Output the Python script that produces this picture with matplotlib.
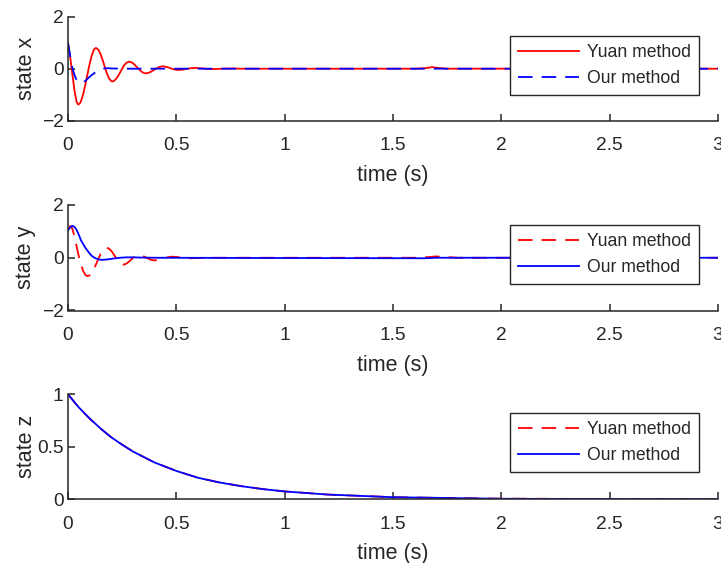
import matplotlib
matplotlib.use("Agg")
import matplotlib.pyplot as plt

plt.rcParams['font.family'] = ['Liberation Sans', 'DejaVu Sans']
plt.rcParams['lines.scale_dashes'] = False

# ---------------- data ----------------
t_x_yuan = [0.0, 0.01, 0.02, 0.03, 0.04, 0.047, 0.055, 0.06, 0.07, 0.08, 0.09, 0.10, 0.11, 0.12, 0.129,
            0.14, 0.15, 0.16, 0.17, 0.18, 0.19, 0.20, 0.204, 0.21, 0.22, 0.23, 0.24, 0.25, 0.26, 0.27, 0.281,
            0.29, 0.30, 0.31, 0.32, 0.33, 0.34, 0.35, 0.359, 0.37, 0.38, 0.39, 0.40, 0.41, 0.42, 0.435,
            0.45, 0.46, 0.47, 0.48, 0.49, 0.50, 0.51, 0.53, 0.55, 0.57, 0.585, 0.61, 0.635, 0.66, 0.69,
            0.72, 0.76, 0.80, 1.0, 1.6, 1.65, 1.68, 1.71, 1.75, 2.0, 2.5, 3.0]
x_yuan = [1.0, 0.45, -0.2, -0.85, -1.28, -1.38, -1.33, -1.25, -0.98, -0.62, -0.21, 0.19, 0.52, 0.74, 0.80,
          0.73, 0.57, 0.33, 0.06, -0.19, -0.38, -0.48, -0.49, -0.48, -0.41, -0.30, -0.15, 0.0, 0.14, 0.23, 0.27,
          0.255, 0.21, 0.13, 0.045, -0.04, -0.12, -0.165, -0.18, -0.165, -0.13, -0.08, -0.03, 0.02, 0.065, 0.09,
          0.077, 0.055, 0.027, -0.002, -0.027, -0.045, -0.05, -0.035, -0.005, 0.022, 0.03, 0.02, 0.0, -0.015, -0.01,
          0.005, 0.008, 0.0, 0.0, 0.0, 0.02, 0.06, 0.03, 0.0, 0.0, 0.0, 0.0]

t_x_our = [0.0, 0.01, 0.02, 0.03, 0.04, 0.05, 0.06, 0.07, 0.08, 0.09, 0.10, 0.11, 0.12, 0.13, 0.14,
           0.15, 0.16, 0.18, 0.20, 0.25, 1.0, 2.0, 3.0]
x_our = [1.0, 0.5, 0.05, -0.25, -0.44, -0.52, -0.55, -0.53, -0.47, -0.39, -0.31, -0.24, -0.18, -0.12, -0.07,
         -0.03, 0.0, 0.02, 0.01, 0.0, 0.0, 0.0, 0.0]

t_y_yuan = [0.0, 0.005, 0.01, 0.015, 0.02, 0.03, 0.04, 0.05, 0.06, 0.07, 0.08, 0.09,
            0.10, 0.11, 0.12, 0.13, 0.14, 0.15, 0.16, 0.17, 0.178,
            0.19, 0.20, 0.21, 0.22, 0.23, 0.24, 0.255,
            0.265, 0.275, 0.285, 0.295, 0.305, 0.315, 0.325,
            0.34, 0.355, 0.37, 0.385, 0.40, 0.42, 0.44, 0.46, 0.48,
            0.50, 0.52, 0.54, 0.56, 0.60, 0.64, 1.0, 1.62, 1.67, 1.70, 1.74, 1.80, 2.5, 3.0]
y_yuan = [1.05, 1.15, 1.2, 1.18, 1.1, 0.8, 0.42, 0.05, -0.26, -0.5, -0.65, -0.70,
          -0.666, -0.568, -0.419, -0.237, -0.046, 0.132, 0.271, 0.358, 0.38,
          0.342, 0.259, 0.144, 0.014, -0.107, -0.202, -0.26,
          -0.242, -0.192, -0.12, -0.04, 0.032, 0.082, 0.10,
          0.081, 0.031, -0.031, -0.081, -0.10, -0.079, -0.03, 0.019, 0.04,
          0.031, 0.01, -0.011, -0.02, -0.01, 0.0, 0.0, 0.0, 0.03, 0.05, 0.03, 0.0, 0.0, 0.0]

t_y_our = [0.0, 0.01, 0.02, 0.03, 0.04, 0.05, 0.06, 0.07, 0.08, 0.09, 0.10, 0.11, 0.12, 0.13, 0.14,
           0.156, 0.18, 0.21, 0.24, 0.27, 0.30, 0.35, 0.40, 1.0, 1.65, 1.7, 2.0, 3.0]
y_our = [1.04, 1.15, 1.21, 1.17, 1.05, 0.87, 0.66, 0.52, 0.38, 0.27, 0.16, 0.07, 0.01, -0.03, -0.06,
         -0.08, -0.065, -0.03, 0.0, 0.015, 0.015, 0.005, 0.0, -0.01, -0.02, 0.0, 0.0, 0.0]

t_z = [0.0, 0.05, 0.1, 0.15, 0.2, 0.25, 0.3, 0.4, 0.5, 0.6, 0.7, 0.8, 0.9, 1.0, 1.2, 1.5, 2.0, 2.5, 3.0]
z_yuan = [1.0, 0.872, 0.768, 0.673, 0.59, 0.52, 0.455, 0.35, 0.27, 0.205, 0.16, 0.125, 0.097, 0.075,
          0.045, 0.02, 0.006, 0.003, 0.002]
z_our = [1.0, 0.875, 0.77, 0.675, 0.59, 0.52, 0.455, 0.35, 0.27, 0.205, 0.16, 0.125, 0.097, 0.075,
         0.045, 0.02, 0.005, 0.002, 0.0]

x_ticks = [0, 0.5, 1, 1.5, 2, 2.5, 3]
x_ticklabels = ['0', '0.5', '1', '1.5', '2', '2.5', '3']
y_ticks_xy = [-2, 0, 2]
y_ticklabels_xy = ['\u22122', '0', '2']
y_ticks_z = [0, 0.5, 1]
y_ticklabels_z = ['0', '0.5', '1']
legend_labels = ['Yuan method', 'Our method']
y_labels = ['state x', 'state y', 'state z']

# ---------------- style ----------------
RED = '#FF0000'
BLUE = '#0000FF'
AX = '#262626'
LW = 1.3
DASH = (10.5, 6.5)

W, H = 721, 563
fig = plt.figure(figsize=(W / 100, H / 100), dpi=100)

left_px, right_px = 68, 718
boxes = [(16.7, 120.7), (205.0, 310.5), (394.3, 499.3)]
axes = []
for top, bot in boxes:
    ax = fig.add_axes([left_px / W, 1 - bot / H, (right_px - left_px) / W, (bot - top) / H])
    axes.append(ax)

def style(ax, yticks, yticklabels, ylim, ylabel):
    ax.set_xlim(0, 3)
    ax.set_ylim(*ylim)
    ax.set_xticks(x_ticks)
    ax.set_xticklabels(x_ticklabels)
    ax.set_yticks(yticks)
    ax.set_yticklabels(yticklabels)
    for s in ['top', 'right']:
        ax.spines[s].set_visible(False)
    for s in ['left', 'bottom']:
        ax.spines[s].set_color(AX)
        ax.spines[s].set_linewidth(1.1)
    ax.tick_params(axis='both', direction='in', length=5, width=1.1, color=AX,
                   labelcolor=AX, labelsize=13.8)
    ax.tick_params(axis='x', pad=12)
    ax.tick_params(axis='y', pad=3.2)
    ax.set_xlabel('time (s)', fontsize=15.5, color=AX, va='top')
    ax.set_ylabel(ylabel, fontsize=15.5, color=AX, va='center')
    h = ax.get_position().height * H
    ax.xaxis.set_label_coords(0.5, -44.0 / h)
    ax.yaxis.set_label_coords(-42.0 / 650.0, 0.5)

def add_legend(ax, handles, yfrac):
    leg = ax.legend(handles, legend_labels, loc='center right', bbox_to_anchor=(0.971, yfrac),
                    borderaxespad=0, fontsize=12.7, handlelength=3.5, handletextpad=0.45,
                    borderpad=0.45, labelspacing=0.5, fancybox=False, framealpha=1,
                    edgecolor=AX)
    leg.get_frame().set_linewidth(1.0)
    for txt in leg.get_texts():
        txt.set_color(AX)

# state x
ax = axes[0]
l1, = ax.plot(t_x_yuan, x_yuan, color=RED, lw=LW, solid_joinstyle='round')
l2, = ax.plot(t_x_our, x_our, color=BLUE, lw=LW, linestyle=(0, DASH))
style(ax, y_ticks_xy, y_ticklabels_xy, (-2, 2), y_labels[0])
add_legend(ax, [l1, l2], 0.53)

# state y
ax = axes[1]
l1, = ax.plot(t_y_yuan, y_yuan, color=RED, lw=LW, linestyle=(0, DASH))
l2, = ax.plot(t_y_our, y_our, color=BLUE, lw=LW)
style(ax, y_ticks_xy, y_ticklabels_xy, (-2, 2), y_labels[1])
add_legend(ax, [l1, l2], 0.533)

# state z
ax = axes[2]
l1, = ax.plot(t_z, z_yuan, color=RED, lw=LW, linestyle=(0, DASH))
l2, = ax.plot(t_z, z_our, color=BLUE, lw=LW)
style(ax, y_ticks_z, y_ticklabels_z, (0, 1), y_labels[2])
add_legend(ax, [l1, l2], 0.543)

fig.savefig('out.png', dpi=100)
